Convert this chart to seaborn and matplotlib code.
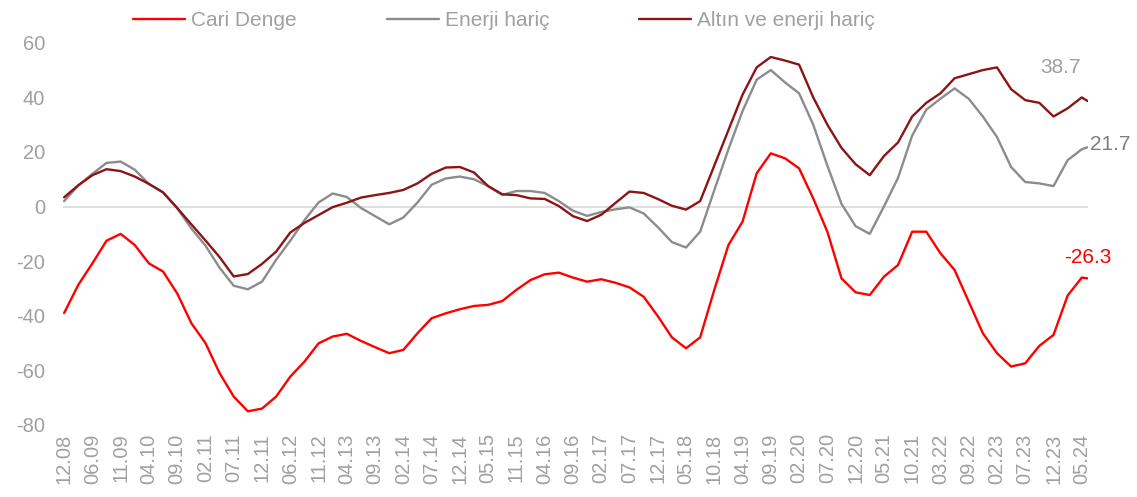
import numpy as np
import pandas as pd
import matplotlib
matplotlib.use('Agg')
import matplotlib.pyplot as plt
import seaborn as sns

tick_labels = ['12.08', '06.09', '11.09', '04.10', '09.10', '02.11', '07.11', '12.11',
               '06.12', '11.12', '04.13', '09.13', '02.14', '07.14', '12.14', '05.15',
               '11.15', '04.16', '09.16', '02.17', '07.17', '12.17', '05.18', '10.18',
               '04.19', '09.19', '02.20', '07.20', '12.20', '05.21', '10.21', '03.22',
               '09.22', '02.23', '07.23', '12.23', '05.24']

# sample positions in tick units (half a tick apart, last one is the latest week)
pos = np.append(np.arange(73) * 0.5, 36.2)

cari_denge = [-39.0, -28.7, -20.8, -12.5, -10.0, -14.1, -20.8, -23.8, -31.8, -42.7,
              -50.0, -61.0, -69.6, -75.0, -74.0, -69.6, -62.3, -56.8, -50.1, -47.6,
              -46.6, -49.2, -51.5, -53.7, -52.5, -46.4, -40.9, -39.1, -37.6, -36.4,
              -36.0, -34.6, -30.5, -26.9, -24.8, -24.2, -26.0, -27.5, -26.6, -27.9,
              -29.6, -33.0, -40.1, -47.9, -51.9, -47.9, -30.5, -14.1, -5.5, 12.2,
              19.5, 17.7, 14.0, 3.0, -9.2, -26.3, -31.4, -32.4, -25.7, -21.4,
              -9.2, -9.2, -17.1, -23.2, -34.8, -46.4, -53.7, -58.6, -57.4, -51.0,
              -47.0, -32.6, -26.0, -26.3]

enerji_haric = [2.0, 7.7, 12.0, 16.0, 16.5, 13.5, 8.3, 5.2, -0.6, -8.0,
                -14.3, -22.4, -29.0, -30.3, -27.5, -19.5, -12.5, -5.0, 1.5, 4.8,
                3.5, -0.5, -3.5, -6.5, -4.0, 1.5, 8.0, 10.3, 11.0, 10.0,
                7.5, 4.3, 5.7, 5.7, 5.0, 2.0, -1.5, -3.4, -2.0, -1.0,
                -0.3, -2.5, -7.5, -13.0, -15.0, -9.2, 6.0, 21.0, 35.0, 46.5,
                50.0, 45.5, 41.5, 30.0, 15.0, 1.0, -7.2, -10.0, 0.0, 10.5,
                26.0, 35.5, 39.5, 43.3, 39.5, 33.0, 25.5, 14.5, 9.0, 8.5,
                7.5, 17.0, 21.0, 21.7]

altin_enerji_haric = [3.4, 7.8, 11.5, 13.7, 13.0, 11.0, 8.3, 5.2, -0.5, -6.5,
                      -12.4, -18.5, -25.6, -24.7, -21.0, -16.5, -9.5, -6.0, -3.1, -0.2,
                      1.4, 3.3, 4.2, 5.0, 6.1, 8.5, 12.0, 14.3, 14.5, 12.5,
                      7.5, 4.5, 4.2, 3.0, 2.8, 0.2, -3.5, -5.3, -3.0, 1.3,
                      5.5, 5.0, 2.8, 0.3, -1.1, 2.0, 15.0, 28.0, 41.0, 51.0,
                      54.8, 53.5, 52.0, 40.0, 30.0, 21.5, 15.5, 11.5, 18.5, 23.5,
                      33.0, 38.0, 41.5, 47.0, 48.5, 50.0, 51.0, 43.0, 39.0, 38.0,
                      33.0, 36.0, 40.0, 38.7]

names = ['Cari Denge', 'Enerji hariç', 'Altın ve enerji hariç']
colors = {'Cari Denge': '#FF0000', 'Enerji hariç': '#8C8C8C', 'Altın ve enerji hariç': '#8B1515'}

df = pd.concat([
    pd.DataFrame({'pos': pos, 'val': cari_denge, 'seri': names[0]}),
    pd.DataFrame({'pos': pos, 'val': enerji_haric, 'seri': names[1]}),
    pd.DataFrame({'pos': pos, 'val': altin_enerji_haric, 'seri': names[2]}),
])

sns.set_style('white')
plt.rcParams['font.family'] = ['Liberation Sans', 'DejaVu Sans']
plt.rcParams['axes.unicode_minus'] = False

fig = plt.figure(figsize=(11.37, 4.97), dpi=100)
ax = fig.add_axes([0.0554, 0.1449, 0.9015, 0.769])

ax.axhline(0, color='#D9D9D9', lw=1.2, zorder=0)
sns.lineplot(data=df, x='pos', y='val', hue='seri', hue_order=names, palette=colors,
             linewidth=1.7, legend=False, ax=ax)

ax.set_xlim(-0.04, 36.22)
ax.set_ylim(-80, 60)
ax.set_yticks(range(-80, 61, 20))
ax.set_xticks(range(len(tick_labels)))
ax.set_xticklabels(tick_labels, rotation=90)
ax.tick_params(axis='both', length=0, labelsize=14.5, colors='#A0A0A0')
ax.tick_params(axis='y', pad=13)
ax.tick_params(axis='x', pad=6)
ax.set_xlabel('')
ax.set_ylabel('')
sns.despine(ax=ax, left=True, bottom=True)

# end-of-series labels
ax.annotate('38.7', xy=(pos[-1], altin_enerji_haric[-1]), xytext=(-19, 24),
            textcoords='offset points', ha='center', va='center', fontsize=15, color='#A0A0A0',
            annotation_clip=False)
ax.annotate('21.7', xy=(pos[-1], enerji_haric[-1]), xytext=(2, 2),
            textcoords='offset points', ha='left', va='center', fontsize=15, color='#7F7F7F',
            annotation_clip=False)
ax.annotate('-26.3', xy=(pos[-1], cari_denge[-1]), xytext=(0, 15),
            textcoords='offset points', ha='center', va='center', fontsize=15, color='#FF0000',
            annotation_clip=False)

handles = ax.lines[1:4]
fig.legend(handles, names, loc='center', bbox_to_anchor=(504 / 1137, 1 - 21 / 497), ncol=3,
           frameon=False, fontsize=15, labelcolor='#A0A0A0', handlelength=2.5,
           handletextpad=0.3, columnspacing=4.3)

plt.savefig('out.png', dpi=100)
